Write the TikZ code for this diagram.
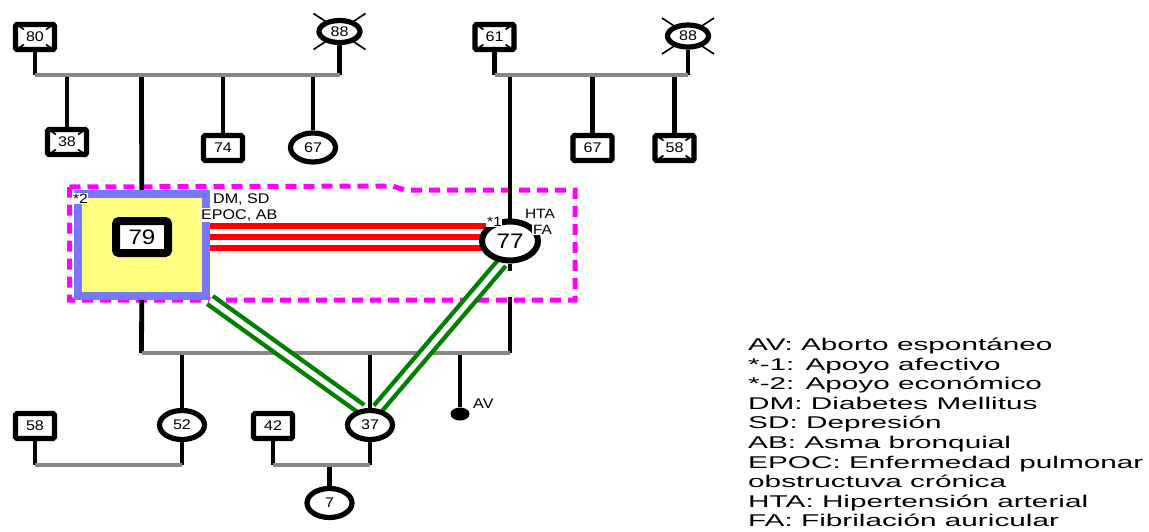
\documentclass[tikz,border=0pt]{standalone}
\usepackage{fontspec}
\setmainfont{Liberation Sans}[FakeStretch=1.15]
\newfontfamily\legfont{Liberation Sans}[FakeStretch=1.75]
\usetikzlibrary{shapes.geometric,calc,backgrounds}
\definecolor{unionc}{HTML}{888888}
\definecolor{bluebox}{HTML}{7777FF}
\definecolor{yellowbox}{HTML}{FFFF80}
\definecolor{magentac}{HTML}{FF00FF}
\definecolor{greenc}{HTML}{008000}
\definecolor{redc}{HTML}{FF0000}
\newcommand\deadsq[1]{%
  \foreach \cn in {north west,north east,south west,south east}
    \draw[dead] ($(#1.\cn)!0.08!(#1.center)$) -- ($(#1.\cn)!0.5!(#1.center)$);}
\newcommand\deadel[1]{%
  \foreach \sx/\sy in {1/1,1/-1,-1/1,-1/-1}
    \draw[dead] ($(#1.center)+(\sx*11.5,\sy*8.5)$) -- ($(#1.center)+(\sx*26,\sy*18)$);}
\begin{document}
\begin{tikzpicture}[x=1pt,y=-1pt,
  every node/.style={inner sep=0pt},
  male/.style={draw, line width=5.2pt, rounded corners=1.5pt, fill=white,
    minimum width=39pt, minimum height=25pt, font=\fontsize{14}{16}\selectfont},
  female/.style={draw, ellipse, line width=5.2pt, fill=white,
    minimum width=45pt, minimum height=29pt, font=\fontsize{14}{16}\selectfont},
  conn/.style={line width=4.8pt},
  thinconn/.style={line width=3.3pt},
  union/.style={line width=4pt, draw=unionc},
  redl/.style={line width=5.5pt, draw=redc},
  greenl/.style={line width=14pt, draw=greenc},
  whitel/.style={line width=5.2pt, draw=white},
  lbl/.style={fill=white, inner sep=1pt, anchor=base west, font=\fontsize{14}{16}\selectfont},
  smalllbl/.style={fill=white, inner sep=0.8pt, anchor=base west, font=\fontsize{13.5}{15}\selectfont},
  legend/.style={anchor=base west, font=\legfont\fontsize{17}{20}\selectfont},
  dead/.style={line width=1.7pt},
]
\useasboundingbox (0,0) rectangle (1149,531);

% ---------- nodes ----------
% top left family
\node[male] (m80) at (35,37) {80};
\node[female, minimum width=41pt, minimum height=22pt] (f88a) at (339.5,31.5) {88};
\node[male] (m38) at (67,142) {38};
\node[male] (m74) at (223,148) {74};
\node[female] (f67) at (313,147.5) {67};
% top right family
\node[male] (m61) at (494.5,37) {61};
\node[female, minimum width=41pt, minimum height=22pt] (f88b) at (688,36) {88};
\node[male] (m67) at (592.5,148) {67};
\node[male] (m58a) at (674.5,148) {58};
% couple
\node[draw=bluebox, fill=yellowbox, line width=8pt, minimum width=128.5pt, minimum height=102pt] (box79) at (141.75,245) {};
\node[male, line width=8pt, rounded corners=3pt, minimum width=52pt, minimum height=32pt,
  font=\fontsize{21}{24}\selectfont] (m79) at (142,237) {79};
\node[female, line width=6pt, minimum width=56pt, minimum height=39pt,
  font=\fontsize{21}{24}\selectfont] (f77) at (510,241) {77};
% children
\node[female] (f52) at (182,425) {52};
\node[female] (f37) at (370,425) {37};
\node[male] (m58b) at (35,426) {58};
\node[male] (m42) at (273,426) {42};
\node[female] (f7) at (329.5,503) {7};
\node[fill=black, ellipse, minimum width=19pt, minimum height=13pt] (av) at (460,414) {};

% deceased marks
\deadsq{m80}\deadsq{m38}\deadsq{m61}\deadsq{m58a}
\deadel{f88a}\deadel{f88b}

% labels
\node[smalllbl] (l2) at (72,203) {*2};
\node[lbl] (ldm) at (212,203) {DM, SD};
\node[lbl] (lepoc) at (200,219) {EPOC, AB};
\node[smalllbl] (l1) at (486,226) {*1};
\node[smalllbl] (lhta) at (524,218) {HTA};
\node[smalllbl] (lfa) at (532,234) {FA};
\node[anchor=base west, font=\fontsize{14}{16}\selectfont] (lav) at (473,408) {AV};

% legend
\foreach \txt [count=\i from 0] in {AV: Aborto espontáneo,*-1: Apoyo afectivo,*-2: Apoyo económico,DM: Diabetes Mellitus,SD: Depresión,AB: Asma bronquial,EPOC: Enfermedad pulmonar,obstructuva crónica,HTA: Hipertensión arterial,FA: Fibrilación auricular}
  \node[legend] (leg\i) at (748,350.5+19.6*\i) {\txt};

% ---------- connectors ----------
\coordinate (a1) at (35,75);   \coordinate (a2) at (339.5,75);
\coordinate (a38) at (67,76);  \coordinate (a141) at (141.5,76);
\coordinate (a74) at (223,76); \coordinate (a67) at (313,76);
\coordinate (b1) at (494.5,75); \coordinate (b2) at (688,75);
\coordinate (b510) at (510,76); \coordinate (b67) at (592.5,76); \coordinate (b58) at (674.5,76);
\coordinate (s1) at (141.5,353); \coordinate (s2) at (510,353);
\coordinate (s52) at (182,355); \coordinate (s37) at (370,355); \coordinate (sav) at (460,355);
\coordinate (stub) at (510,271); \coordinate (below77) at (510,297);
\coordinate (u1) at (35,464.5); \coordinate (u2) at (182,464.5);
\coordinate (v1) at (273,464.5); \coordinate (v2) at (370,464.5); \coordinate (v7) at (329.5,466);

\begin{pgfonlayer}{background}
  % household frame
  \draw[magentac, line width=5pt, dash pattern=on 11pt off 7pt]
    (69.5,187) -- (392,186) -- (405,190) -- (575,190) -- (575,300) -- (69.5,300) -- cycle;
  % top left
  \draw[conn] (m80) -- (a1);
  \draw[conn] (f88a) -- (a2);
  \draw[conn] (a38) -- (m38);
  \draw[conn] (a141) -- (box79.north);
  \draw[conn] (a74) -- (m74);
  \draw[conn] (a67) -- (f67);
  \draw[union] (a1) -- (a2);
  % top right
  \draw[conn] (m61) -- (b1);
  \draw[conn] (f88b) -- (b2);
  \draw[conn] (b510) -- (f77.north);
  \draw[conn] (b67) -- (m67);
  \draw[conn] (b58) -- (m58a);
  \draw[union] (b1) -- (b2);
  % couple relation lines
  \draw[redl] (box79.east |- 0,226) -- (f77.center |- 0,226);
  \draw[redl] (box79.east |- 0,237) -- (f77.center |- 0,237);
  \draw[redl] (box79.east |- 0,248) -- (f77.center |- 0,248);
  % sibship
  \draw[conn] (box79.south) -- (s1);
  \draw[conn] (f77.south) -- (stub);
  \draw[conn] (below77) -- (s2);
  \draw[conn] (s52) -- (f52);
  \draw[thinconn] (s37) -- (f37);
  \draw[conn] (sav) -- (av);
  \draw[union] (s1) -- (s2);
  % green relations
  \draw[greenl] (box79.south east) -- (f37.118);
  \draw[whitel] (box79.south east) -- (f37.118);
  \draw[greenl] (f77.250) -- (f37.65);
  \draw[whitel] (f77.250) -- (f37.65);
  % bottom families
  \draw[conn] (m58b) -- (u1);
  \draw[conn] (f52) -- (u2);
  \draw[union] (u1) -- (u2);
  \draw[conn] (m42) -- (v1);
  \draw[conn] (f37) -- (v2);
  \draw[conn] (v7) -- (f7);
  \draw[union] (v1) -- (v2);
\end{pgfonlayer}
\end{tikzpicture}
\end{document}
